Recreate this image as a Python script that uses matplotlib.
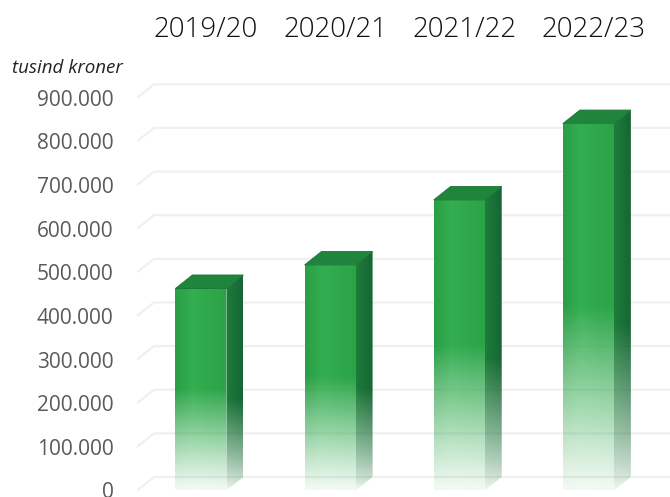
import numpy as np
import matplotlib.pyplot as plt
from matplotlib.patches import Polygon
from matplotlib.colors import to_rgb

categories = ['2019/20', '2020/21', '2021/22', '2022/23']
values = [463000, 517000, 666000, 841000]
yticks = list(range(0, 900001, 100000))
unit_label = 'tusind kroner'

plt.rcParams['font.family'] = ['Open Sans', 'DejaVu Sans']

fig = plt.figure(figsize=(6.7, 4.97), dpi=100)
ax = fig.add_axes([137/670, 0, 533/670, 447/497])
xlim = (-0.495, 3.632)
ylim = (-14900, 1009600)
for s in ax.spines.values():
    s.set_visible(False)

half_w = 0.1975
dx, dy = 0.1316, 30940   # depth of the 3d box, in data units

# back wall gridlines with the slanted bit on the side wall
for v in yticks:
    ax.plot([xlim[0], xlim[0] + dx, xlim[1]], [v, v + dy, v + dy],
            color='#f0f0f0', lw=1.6, zorder=1, solid_capstyle='butt')


def face(verts, colors, fade_h, power, z=3):
    xs = [p[0] for p in verts]
    ys = [p[1] for p in verts]
    x0, x1, y0, y1 = min(xs), max(xs), min(ys), max(ys)
    h, w = 300, 30
    yy = np.linspace(y0, y1, h)
    t = np.clip(yy / fade_h, 0, 1)
    alpha = 0.06 + 0.94 * t ** power
    rgb = np.array([to_rgb(c) for c in colors])
    pos = np.linspace(0, 1, len(colors))
    xx = np.linspace(0, 1, w)
    cols = np.stack([np.interp(xx, pos, rgb[:, k]) for k in range(3)], axis=1)
    img = np.zeros((h, w, 4))
    img[..., :3] = cols[None, :, :]
    img[..., 3] = alpha[:, None]
    im = ax.imshow(img, extent=(x0, x1, y0, y1), origin='lower', aspect='auto',
                   zorder=z, interpolation='bilinear')
    clip = Polygon(verts, closed=True, transform=ax.transData,
                   facecolor='none', edgecolor='none')
    ax.add_patch(clip)
    im.set_clip_path(clip)


for i, v in enumerate(values):
    xl, xr = i - half_w, i + half_w
    fade_h = 0.5 * v
    # front
    face([(xl, 0), (xr, 0), (xr, v), (xl, v)],
         ['#2a9f47', '#33ae50', '#2ea84b', '#2ba448'], fade_h, 1.1)
    # side
    face([(xr, 0), (xr + dx, dy), (xr + dx, v + dy), (xr, v)],
         ['#1d7c3b', '#166633'], fade_h * 0.9, 0.8)
    # top
    ax.add_patch(Polygon([(xl, v), (xr, v), (xr + dx, v + dy), (xl + dx, v + dy)],
                         closed=True, facecolor='#1f853c', edgecolor='#1a7535',
                         lw=0.6, zorder=4))

ax.set_xlim(*xlim)
ax.set_ylim(*ylim)

ax.set_yticks(yticks, labels=[f'{v:,}'.replace(',', '.') for v in yticks])
ax.tick_params(axis='y', length=0, pad=17, labelsize=15, labelcolor='#5a5a5a')
ax.set_xticks(np.arange(len(categories)) + 0.04, categories)
ax.xaxis.tick_top()
ax.tick_params(axis='x', length=0, pad=4, labelsize=20, labelcolor='#111111')
for lab in ax.get_xticklabels():
    lab.set_fontweight('light')

fig.text(12/670, 1 - 68/497, unit_label, style='italic', fontsize=13.5,
         va='center', ha='left', color='#222222')

fig.savefig('out.png', dpi=100)
